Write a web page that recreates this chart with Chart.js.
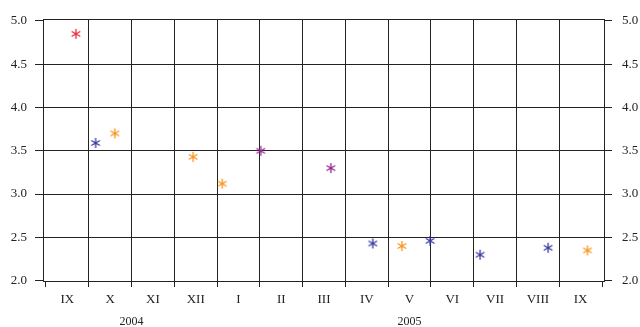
<!DOCTYPE html>
<html>
<head>
<meta charset="utf-8">
<script src="https://cdn.jsdelivr.net/npm/chart.js@4/dist/chart.umd.min.js"></script>
<style>
  html, body { margin: 0; padding: 0; background: #fff; }
  #wrap { width: 640px; height: 327px; }
</style>
</head>
<body>
<div id="wrap"><canvas id="c" width="640" height="327"></canvas></div>
<script>
// ---- data (x = position in months from start of Sep 2004; y = value) ----
const monthLabels = ['IX','X','XI','XII','I','II','III','IV','V','VI','VII','VIII','IX'];
const yearLabels = ['2004','2005'];
const yearMonthCounts = [4, 9];
const yTickValues = [2.0, 2.5, 3.0, 3.5, 4.0, 4.5, 5.0];

const redX = [0.70];
const redY = [4.85];
const blueX = [1.16, 7.64, 8.98, 10.15, 11.74];
const blueY = [3.59, 2.43, 2.46, 2.30, 2.38];
const orangeX = [1.61, 3.44, 4.12, 8.32, 12.66];
const orangeY = [3.70, 3.43, 3.12, 2.40, 2.35];
const purpleX = [5.02, 6.66];
const purpleY = [3.50, 3.30];

// ---- helpers ----
function pts(xs, ys) { return xs.map((x, i) => ({ x: x, y: ys[i] })); }
function asterisk(color) {
  const c = document.createElement('canvas');
  c.width = 12; c.height = 12;
  const g = c.getContext('2d');
  g.strokeStyle = color; g.lineWidth = 1.3; g.lineCap = 'butt';
  const cx = 6, cy = 6, r = 5;
  g.beginPath();
  for (const a of [90, 30, -30]) {
    const rad = a * Math.PI / 180;
    const dx = r * Math.cos(rad), dy = r * Math.sin(rad);
    g.moveTo(cx - dx, cy - dy); g.lineTo(cx + dx, cy + dy);
  }
  g.stroke();
  return c;
}

const nMonths = monthLabels.length;
const xMin = -0.07, xMax = nMonths + 0.07;
const yMin = 1.985, yMax = 5.021;
const yearCenters = [];
{ let s = 0; for (const n of yearMonthCounts) { yearCenters.push(s + n / 2); s += n; } }

Chart.defaults.font.family = '"Liberation Serif", "Times New Roman", serif';
Chart.defaults.font.size = 13;
Chart.defaults.color = '#222';

const frame = {
  id: 'frame',
  beforeDatasetsDraw(chart) {
    const a = chart.chartArea, g = chart.ctx;
    g.save();
    g.strokeStyle = '#222'; g.lineWidth = 1;
    g.strokeRect(Math.round(a.left) + 0.5, Math.round(a.top) + 0.5,
                 Math.round(a.right) - Math.round(a.left) - 1, Math.round(a.bottom) - Math.round(a.top) - 1);
    g.restore();
  }
};

const mk = (label, xs, ys, color) => ({
  label, data: pts(xs, ys), pointStyle: asterisk(color),
  pointRadius: 5, pointHoverRadius: 5, showLine: false,
  borderColor: color, backgroundColor: color
});

new Chart(document.getElementById('c'), {
  type: 'scatter',
  data: {
    datasets: [
      mk('red', redX, redY, '#ee2b3b'),
      mk('blue', blueX, blueY, '#3a3aa2'),
      mk('orange', orangeX, orangeY, '#f7941d'),
      mk('purple', purpleX, purpleY, '#93278f')
    ]
  },
  options: {
    responsive: false,
    devicePixelRatio: 1,
    animation: false,
    layout: { padding: { top: 19, left: 0, right: 0, bottom: 0 } },
    plugins: { legend: { display: false }, tooltip: { enabled: false } },
    scales: {
      x: {
        type: 'linear', position: 'bottom', weight: 0,
        min: xMin, max: xMax,
        afterBuildTicks: s => { s.ticks = Array.from({ length: nMonths + 1 }, (_, i) => ({ value: i })); },
        ticks: { display: false },
        grid: {
          color: c => (c.tick && (c.tick.value === 0 || c.tick.value === nMonths)) ? 'rgba(0,0,0,0)' : '#222',
          tickColor: '#222', tickLength: 5, lineWidth: 1
        },
        border: { display: false },
        afterFit: s => { s.height = 6; }
      },
      xm: {
        type: 'linear', position: 'bottom', weight: 1,
        min: xMin, max: xMax,
        afterBuildTicks: s => { s.ticks = monthLabels.map((_, i) => ({ value: i + 0.5 })); },
        ticks: {
          autoSkip: false, maxRotation: 0, padding: 4, font: { size: 13 },
          callback: (v, i) => monthLabels[i]
        },
        grid: { display: false, drawTicks: false },
        border: { display: false },
        afterFit: s => { s.height = 20; }
      },
      xy: {
        type: 'linear', position: 'bottom', weight: 2,
        min: xMin, max: xMax,
        afterBuildTicks: s => { s.ticks = yearCenters.map(v => ({ value: v })); },
        ticks: {
          autoSkip: false, maxRotation: 0, padding: 7, font: { size: 12 },
          callback: (v, i) => yearLabels[i]
        },
        grid: { display: false, drawTicks: false },
        border: { display: false },
        afterFit: s => { s.height = 19; }
      },
      y: {
        type: 'linear', position: 'left',
        min: yMin, max: yMax,
        afterBuildTicks: s => { s.ticks = yTickValues.map(v => ({ value: v })); },
        ticks: { padding: 8, callback: v => Number(v).toFixed(1) },
        grid: {
          color: c => (c.tick && (c.tick.value === 2 || c.tick.value === 5)) ? 'rgba(0,0,0,0)' : '#222',
          tickColor: '#222', tickLength: 8, lineWidth: 1
        },
        border: { display: false },
        afterFit: s => { s.width = 43; }
      },
      y2: {
        type: 'linear', position: 'right',
        min: yMin, max: yMax,
        afterBuildTicks: s => { s.ticks = yTickValues.map(v => ({ value: v })); },
        ticks: { padding: 10, callback: v => Number(v).toFixed(1) },
        grid: { drawOnChartArea: false, color: '#222', tickColor: '#222', tickLength: 7 },
        border: { display: false },
        afterFit: s => { s.width = 35; }
      }
    }
  },
  plugins: [frame]
});
</script>
</body>
</html>
